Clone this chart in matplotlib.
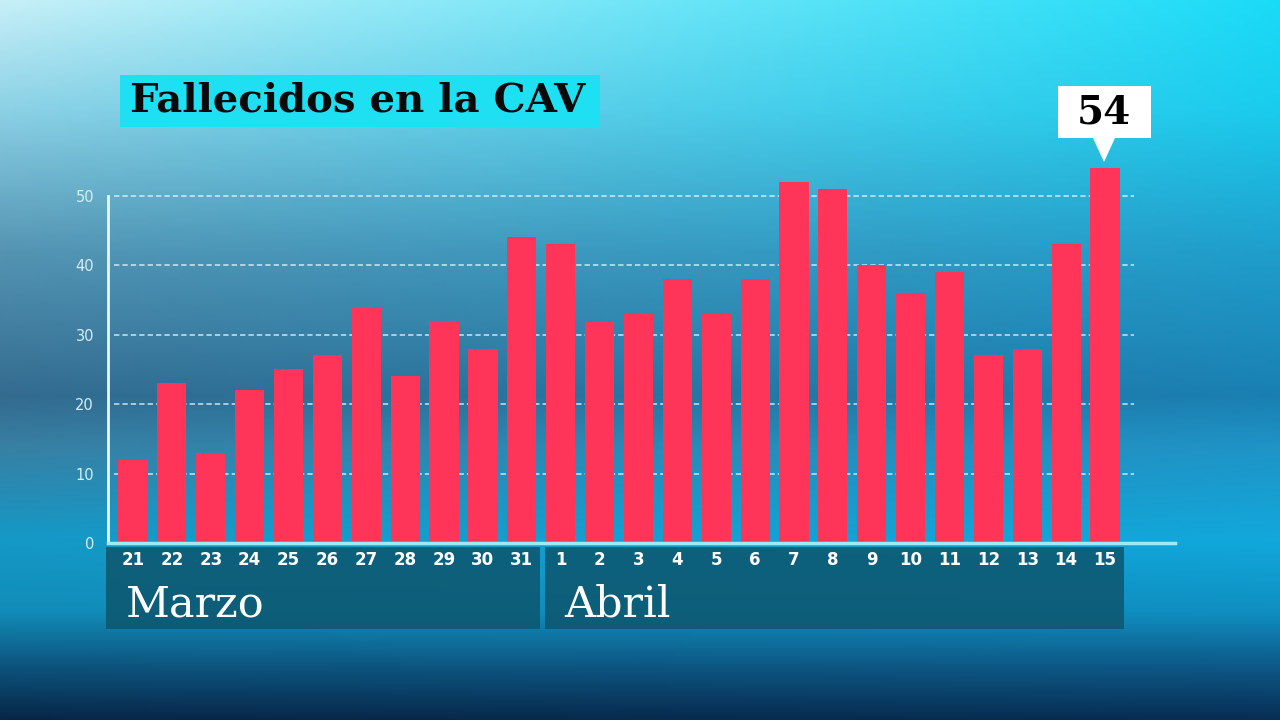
import numpy as np
import matplotlib
matplotlib.use("Agg")
from matplotlib import pyplot as plt
from matplotlib.patches import Rectangle, Polygon

# data
days = ['21', '22', '23', '24', '25', '26', '27', '28', '29', '30', '31',
        '1', '2', '3', '4', '5', '6', '7', '8', '9', '10', '11', '12', '13', '14', '15']
deaths = [12, 23, 13, 22, 25, 27, 34, 24, 32, 28, 44,
          43, 32, 33, 38, 33, 38, 52, 51, 40, 36, 39, 27, 28, 43, 54]
months = ['Marzo', 'Abril']
month_len = [11, 15]
y_ticks = [0, 10, 20, 30, 40, 50]
title = 'Fallecidos en la CAV'

fig = plt.figure(figsize=(12.8, 7.2), dpi=100)

# background gradient
bg = fig.add_axes([0, 0, 1, 1])
bg.set_axis_off()
h, w = 360, 640
yy = np.linspace(0, 1, h)[:, None]
xx = np.linspace(0, 1, w)[None, :]
stops_y = [0.0, 0.15, 0.35, 0.55, 0.62, 0.75, 0.85, 0.93, 1.0]
left_c = np.array([[0.78, 0.94, 0.97], [0.55, 0.82, 0.90], [0.33, 0.58, 0.70], [0.20, 0.42, 0.56],
                   [0.22, 0.50, 0.64], [0.08, 0.60, 0.78], [0.07, 0.55, 0.72], [0.05, 0.32, 0.48],
                   [0.03, 0.15, 0.28]])
right_c = np.array([[0.10, 0.86, 0.97], [0.10, 0.80, 0.93], [0.12, 0.62, 0.80], [0.10, 0.50, 0.70],
                    [0.12, 0.58, 0.78], [0.07, 0.66, 0.86], [0.06, 0.56, 0.76], [0.05, 0.34, 0.52],
                    [0.03, 0.18, 0.33]])
img = np.zeros((h, w, 3))
for k in range(3):
    lc = np.interp(yy[:, 0], stops_y, left_c[:, k])[:, None]
    rc = np.interp(yy[:, 0], stops_y, right_c[:, k])[:, None]
    img[:, :, k] = lc * (1 - xx) + rc * xx
bg.imshow(img, aspect='auto', extent=[0, 1, 0, 1], origin='upper')
bg.set_xlim(0, 1)
bg.set_ylim(0, 1)

# main axes
ax = fig.add_axes([108 / 1280, 1 - 543 / 720, 1067 / 1280, 389 / 720])
ax.patch.set_alpha(0)
x = np.arange(len(days))
ax.set_xlim(-0.643, 26.8)
ax.set_ylim(0, 56)

ax.hlines(y_ticks[1:], -0.5, 25.75, colors='#e6f6fb', linestyles=(0, (3.5, 2)), linewidth=1.1, alpha=0.85, zorder=1)
ax.bar(x, deaths, width=0.75, color='#fe3558', zorder=2)

for s in ['top', 'right']:
    ax.spines[s].set_visible(False)
ax.spines['left'].set_bounds(0, 50)
ax.spines['left'].set_color('#e6f8fc')
ax.spines['left'].set_linewidth(2)
ax.spines['bottom'].set_color('#9eeaf8')
ax.spines['bottom'].set_linewidth(2.5)
ax.set_yticks(y_ticks)
ax.set_yticklabels([str(t) for t in y_ticks], color='#d6eef5', fontsize=10.5)
ax.tick_params(axis='y', length=0, pad=10)
ax.set_xticks([])

# month boxes and day labels
box_edges = [(-0.694, 10.47), (10.6, 25.49)]
for m, n, (x0, x1) in zip(months, month_len, box_edges):
    ax.add_patch(Rectangle((x0, -12.4), x1 - x0, 11.8, facecolor='#0d566e', alpha=0.85,
                           edgecolor='none', clip_on=False, zorder=3))
    ax.text(x0 + 0.5, -8.9, m, fontsize=31, family='DejaVu Serif', color='white',
            ha='left', va='center', zorder=4, clip_on=False)
for i, d in enumerate(days):
    ax.text(i, -2.5, d, fontsize=12, fontweight='bold', color='white',
            ha='center', va='center', zorder=4, clip_on=False)

# title box
fig.patches.append(Rectangle((120 / 1280, 1 - 127 / 720), 480 / 1280, 52 / 720,
                             transform=fig.transFigure, facecolor='#1fe0f2', edgecolor='none'))
fig.text(130 / 1280, 1 - 101 / 720, title, fontsize=29, fontweight='bold',
         family='DejaVu Serif', color='#0a0a0a', ha='left', va='center')

# callout for the last bar
fig.patches.append(Polygon([(1058 / 1280, 1 - 86 / 720), (1151 / 1280, 1 - 86 / 720),
                            (1151 / 1280, 1 - 138 / 720), (1115 / 1280, 1 - 138 / 720),
                            (1104 / 1280, 1 - 162 / 720), (1093 / 1280, 1 - 138 / 720),
                            (1058 / 1280, 1 - 138 / 720)],
                           transform=fig.transFigure, facecolor='white', edgecolor='none'))
fig.text(1104 / 1280, 1 - 112 / 720, str(deaths[-1]), fontsize=28, fontweight='bold',
         family='DejaVu Serif', color='black', ha='center', va='center')

plt.savefig('out.png', dpi=100)
